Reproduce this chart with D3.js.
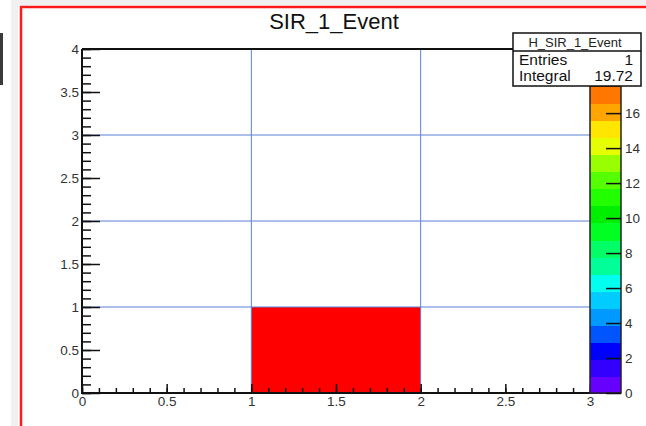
<!DOCTYPE html>
<html>
<head>
<meta charset="utf-8">
<script src="https://cdn.jsdelivr.net/npm/d3@7"></script>
<style>
  body { margin: 0; background: #fff; }
  svg { display: block; font-family: "Liberation Sans", Arial, sans-serif; }
</style>
</head>
<body>
<svg id="vis" width="646" height="426"></svg>
<script>
// histogram content: one filled cell
const xEdges = [0, 1, 2, 3]
const yEdges = [0, 1, 2, 3, 4]
const cells = [{ xBin: 1, yBin: 0, value: 19.72 }]

// grid lines that show on the pad
const xGrid = [1, 2]
const yGrid = [1, 2, 3]

// tick values
const xMajor = [0, 0.5, 1, 1.5, 2, 2.5, 3]
const yMajor = [0, 0.5, 1, 1.5, 2, 2.5, 3, 3.5, 4]
const zTicks = [0, 2, 4, 6, 8, 10, 12, 14, 16]
const zMax = 17.55

// palette bands, bottom to top
const palette = ["#6600ff", "#3300ff", "#0000ff", "#0055ff", "#0099ff", "#00ccff",
  "#00ffee", "#00ff99", "#00ff66", "#00ff22", "#00ee00", "#22ff00",
  "#55ff00", "#99ff00", "#e6ff00", "#ffe600", "#ffa500", "#ff7700"]

const title = "SIR_1_Event"
const statsName = "H_SIR_1_Event"
const statsRows = [["Entries", "1"], ["Integral", "19.72"]]

const svg = d3.select("#vis")

// canvas decoration (window frame)
svg.append("rect").attr("x", 11).attr("y", 0).attr("width", 7).attr("height", 426).attr("fill", "#f0f0f0")
svg.append("rect").attr("x", 11).attr("y", 0).attr("width", 635).attr("height", 5).attr("fill", "#f0f0f0")
svg.append("rect").attr("x", 0).attr("y", 33).attr("width", 3).attr("height", 52).attr("fill", "#3a3a3a")
svg.append("path").attr("d", "M21,426V7H646").attr("fill", "none").attr("stroke", "#ff1a1a").attr("stroke-width", 2.5)

const x = d3.scaleLinear().domain([0, 3]).range([82, 590])
const y = d3.scaleLinear().domain([0, 4]).range([393, 49])
const z = d3.scaleLinear().domain([0, zMax]).range([393, 86])

// cells
svg.append("g").selectAll("rect").data(cells).join("rect")
  .attr("x", d => x(xEdges[d.xBin]))
  .attr("y", d => y(yEdges[d.yBin + 1]))
  .attr("width", d => x(xEdges[d.xBin + 1]) - x(xEdges[d.xBin]))
  .attr("height", d => y(yEdges[d.yBin]) - y(yEdges[d.yBin + 1]))
  .attr("fill", "#ff0000")

// grid
const grid = svg.append("g").attr("stroke", "#5b80d6").attr("stroke-width", 1)
grid.selectAll(".gx").data(xGrid).join("line")
  .attr("x1", d => x(d)).attr("x2", d => x(d)).attr("y1", y(0)).attr("y2", y(4))
grid.selectAll(".gy").data(yGrid).join("line")
  .attr("x1", x(0)).attr("x2", x(3)).attr("y1", d => y(d)).attr("y2", d => y(d))

// minor ticks every 0.1
const xMinor = d3.range(0, 3.001, 0.1)
const yMinor = d3.range(0, 4.001, 0.1)

function styleAxis(g) {
  g.select(".domain").remove()
  g.selectAll("line").attr("stroke", "#111").attr("stroke-width", 1.5)
  g.selectAll("text").attr("fill", "#333").attr("font-size", 13.5)
}

svg.append("g").attr("transform", `translate(0,${y(0)})`)
  .call(d3.axisBottom(x).tickValues(xMinor).tickSize(-5).tickFormat(""))
  .call(styleAxis)
svg.append("g").attr("transform", `translate(0,${y(0)})`)
  .call(d3.axisBottom(x).tickValues(xMajor).tickSize(-9).tickPadding(3).tickFormat(d3.format("")))
  .call(styleAxis)

svg.append("g").attr("transform", `translate(${x(0)},0)`)
  .call(d3.axisLeft(y).tickValues(yMinor).tickSize(-9).tickFormat(""))
  .call(styleAxis)
svg.append("g").attr("transform", `translate(${x(0)},0)`)
  .call(d3.axisLeft(y).tickValues(yMajor).tickSize(-18).tickPadding(3).tickFormat(d3.format("")))
  .call(styleAxis)

// frame
svg.append("path")
  .attr("d", `M${x(0)},${y(4)}H${x(3)}M${x(0)},${y(4)}V${y(0)}H${x(3)}`)
  .attr("fill", "none").attr("stroke", "#111").attr("stroke-width", 2)

// colour bar
const bandH = zMax / palette.length
const cb = svg.append("g").attr("shape-rendering", "crispEdges")
cb.selectAll("rect").data(palette).join("rect")
  .attr("x", x(3)).attr("width", 31)
  .attr("y", (d, i) => z((i + 1) * bandH))
  .attr("height", (d, i) => z(i * bandH) - z((i + 1) * bandH) + 1)
  .attr("fill", d => d)
svg.append("rect").attr("x", x(3)).attr("y", z(zMax)).attr("width", 31).attr("height", z(0) - z(zMax))
  .attr("fill", "none").attr("stroke", "#222").attr("stroke-width", 1.5)
svg.append("g").attr("transform", `translate(${x(3) + 31},0)`)
  .call(d3.axisRight(z).tickValues(zTicks).tickSize(-15).tickPadding(4))
  .call(styleAxis)

// stats box
const sb = svg.append("g").attr("transform", "translate(513,33)")
sb.append("rect").attr("width", 128).attr("height", 53).attr("fill", "#fff")
  .attr("stroke", "#111").attr("stroke-width", 1.5)
sb.append("line").attr("x1", 0).attr("x2", 128).attr("y1", 18).attr("y2", 18)
  .attr("stroke", "#111").attr("stroke-width", 1.5)
sb.append("text").attr("x", 62).attr("y", 13.5).attr("text-anchor", "middle")
  .attr("font-size", 13).attr("fill", "#222").text(statsName)
sb.selectAll(".lab").data(statsRows).join("text")
  .attr("x", 6).attr("y", (d, i) => 32 + i * 16)
  .attr("font-size", 15.5).attr("fill", "#111").text(d => d[0])
sb.selectAll(".val").data(statsRows).join("text")
  .attr("x", 120).attr("y", (d, i) => 32 + i * 16).attr("text-anchor", "end")
  .attr("font-size", 15.5).attr("fill", "#111").text(d => d[1])

// title
svg.append("text").attr("x", 334).attr("y", 29).attr("text-anchor", "middle")
  .attr("font-size", 22).attr("fill", "#111").text(title)
</script>
</body>
</html>
